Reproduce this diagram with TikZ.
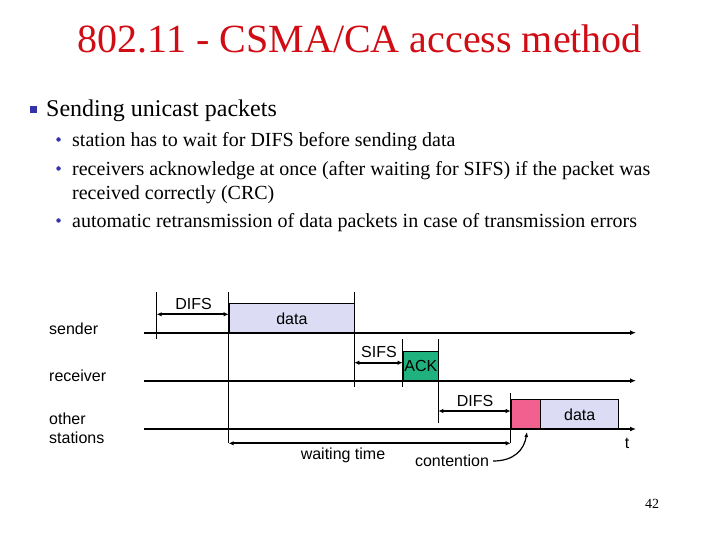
\documentclass[tikz,border=0pt]{standalone}
\usepackage{fontspec}
\setmainfont{Liberation Serif}
\setsansfont{Liberation Sans}
\usetikzlibrary{arrows.meta}
\definecolor{titlered}{HTML}{D00C14}
\definecolor{bulletblue}{HTML}{3333AA}
\definecolor{datafill}{HTML}{DCDCF5}
\definecolor{ackfill}{HTML}{1FB27F}
\definecolor{pinkfill}{HTML}{F2608F}
\begin{document}
\begin{tikzpicture}[x=1pt,y=-1pt,
  timeline/.style={line width=2pt,-{Latex[length=6pt,width=5pt]}},
  tickline/.style={line width=1pt},
  span/.style={line width=2pt,{Latex[length=5pt,width=4.5pt]}-{Latex[length=5pt,width=4.5pt]}},
  lbl/.style={font=\sffamily\fontsize{16}{18}\selectfont, inner sep=0pt},
  blk/.style={draw, line width=0.8pt, inner sep=0pt, anchor=north west, font=\sffamily\fontsize{16}{18}\selectfont},
  subitem/.style={anchor=base west, inner sep=0pt, font=\fontsize{20}{24}\selectfont, align=left},
  dot/.style={circle, fill=bulletblue, inner sep=0pt, minimum size=4.5pt}]
\useasboundingbox (0,0) rectangle (720,540);
% title
\node[font=\fontsize{40}{42}\selectfont, text=titlered, inner sep=0pt, anchor=base] (title) at (360,53) {802.11 - CSMA/CA access method};
% bullets
\node[fill=bulletblue, minimum size=7pt, inner sep=0pt] (sq) at (33.3,110) {};
\node[anchor=base west, inner sep=0pt, font=\fontsize{24}{28}\selectfont] (b0) at (46,117) {Sending unicast packets};
\node[dot] (d1) at (58.5,139.5) {};
\node[subitem] (b1) at (72,147) {station has to wait for DIFS before sending data};
\node[dot] (d2) at (58.5,168.5) {};
\node[subitem] (b2) at (72,176) {receivers acknowledge at once (after waiting for SIFS) if the packet was};
\node[subitem] (b2b) at (72,200) {received correctly (CRC)};
\node[dot] (d3) at (58.5,220.5) {};
\node[subitem] (b3) at (72,228) {automatic retransmission of data packets in case of transmission errors};
% row labels
\node[lbl, anchor=west] (lsend) at (49,329) {sender};
\node[lbl, anchor=west] (lrecv) at (49,376) {receiver};
\node[lbl, anchor=west, align=left] (loth) at (49,428) {other\\[1pt]stations};
% blocks
\node[blk, fill=datafill, minimum width=125.6pt, minimum height=29.4pt] (data1) at (228.7,303.3) {data};
\node[blk, fill=ackfill, minimum width=35.6pt, minimum height=29.7pt] (ack) at (402.7,351) {ACK};
\node[blk, fill=pinkfill, minimum width=29.6pt, minimum height=29.7pt] (cont) at (510.7,399.3) {};
\node[blk, fill=datafill, minimum width=78pt, minimum height=29.7pt] (data2) at (540.3,399.3) {data};
% timelines
\coordinate (s0) at (144,332.7); \coordinate (s1) at (636,332.7);
\coordinate (r0) at (144,380.7); \coordinate (r1) at (636,380.7);
\coordinate (o0) at (144,429); \coordinate (o1) at (636,429);
\draw[timeline] (s0) -- (s1);
\draw[timeline] (r0) -- (r1);
\draw[timeline] (o0) -- (o1);
% vertical marks
\coordinate (v1a) at (156.7,291.7); \coordinate (v1b) at (156.7,339);
\coordinate (v2a) at (228.7,291.7); \coordinate (v2b) at (228.7,443.3);
\coordinate (v3a) at (354.3,291.7); \coordinate (v3b) at (354.3,387.3);
\coordinate (v4a) at (402.7,339.3); \coordinate (v4b) at (402.7,387.3);
\coordinate (v5a) at (438.3,339.3); \coordinate (v5b) at (438.3,423.3);
\coordinate (v6a) at (510.7,393.3); \coordinate (v6b) at (510.7,443.3);
\draw[tickline] (v1a) -- (v1b);
\draw[tickline] (v2a) -- (v2b);
\draw[tickline] (v3a) -- (v3b);
\draw[tickline] (v4a) -- (v4b);
\draw[tickline] (v5a) -- (v5b);
\draw[tickline] (v6a) -- (v6b);
% spans
\coordinate (p1a) at (156.7,314.3); \coordinate (p1b) at (228.7,314.3);
\coordinate (p2a) at (354.3,362.7); \coordinate (p2b) at (402.7,362.7);
\coordinate (p3a) at (438.3,411); \coordinate (p3b) at (510.7,411);
\coordinate (p4a) at (228.7,443.3); \coordinate (p4b) at (510.7,443.3);
\draw[span] (p1a) -- (p1b);
\draw[span] (p2a) -- (p2b);
\draw[span] (p3a) -- (p3b);
\draw[span] (p4a) -- (p4b);
% labels
\node[lbl] (ldifs1) at (193.5,304) {DIFS};
\node[lbl] (lsifs) at (379,351.5) {SIFS};
\node[lbl] (ldifs2) at (475,400.5) {DIFS};
\node[lbl] (lwait) at (343,455) {waiting time};
\node[lbl] (lcont) at (452,461) {contention};
\node[lbl] (lt) at (627,443) {t};
\coordinate (ctip) at (527,432);
\draw[line width=1.2pt, -{Latex[length=5pt,width=4pt]}] (lcont.east) ++(4pt,0) .. controls (514,461) and (524,450) .. (ctip);
% page number
\node[font=\fontsize{14}{16}\selectfont, inner sep=0pt] (pg) at (652,504) {42};
\end{tikzpicture}
\end{document}
